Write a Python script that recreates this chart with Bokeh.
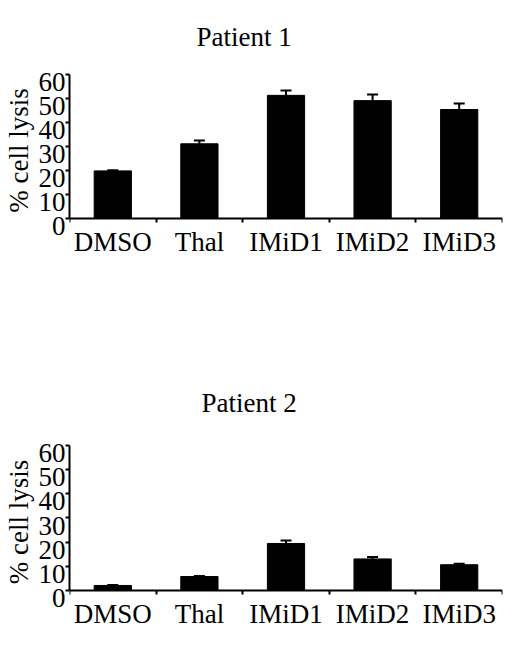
from bokeh.plotting import figure
from bokeh.layouts import column
from bokeh.models import (ColumnDataSource, Range1d, LinearAxis, FixedTicker, Whisker,
                          TeeHead, AllLabels, CustomJSTickFormatter)
from bokeh.embed import file_html
from bokeh.resources import INLINE

categories = ["DMSO", "Thal", "IMiD1", "IMiD2", "IMiD3"]
p1_lysis = [19.8, 31.1, 51.3, 49.1, 45.4]
p1_err = [0.3, 1.4, 2.0, 2.6, 2.5]
p2_lysis = [2.0, 5.7, 19.4, 13.0, 10.6]
p2_err = [0.2, 0.2, 1.2, 0.8, 0.4]
y_ticks = [0, 10, 20, 30, 40, 50, 60]

FONT = "Liberation Serif"
FS = "27px"

n = len(categories)
centers = [i + 0.5 for i in range(n)]
edges = list(range(n + 1))
no_text = CustomJSTickFormatter(code="return ''")


def make_panel(title, vals, errs, height, top, bottom, title_x, title_gap):
    src = ColumnDataSource(dict(x=centers, val=vals,
                                up=[v + e for v, e in zip(vals, errs)]))
    p = figure(x_range=Range1d(0, n), y_range=Range1d(-3.4, 60),
               width=504, height=height,
               min_border_top=top, min_border_bottom=bottom,
               min_border_left=0, min_border_right=2,
               extra_y_ranges={"lbl": Range1d(-0.2, 63.2)},
               output_backend="svg", toolbar_location=None)
    p.outline_line_color = None
    p.xgrid.visible = False
    p.ygrid.visible = False

    p.title.text = title
    p.title.text_font = FONT
    p.title.text_font_size = FS
    p.title.text_font_style = "normal"
    p.title.text_color = "black"
    p.title.align = "left"
    p.title.vertical_align = "top"
    p.title.offset = title_x
    p.title.standoff = title_gap

    # category names under the bars
    xa = p.xaxis[0]
    xa.ticker = FixedTicker(ticks=centers)
    xa.major_label_overrides = {c: name for c, name in zip(centers, categories)}
    xa.axis_line_color = None
    xa.major_tick_line_color = None
    xa.minor_tick_line_color = None
    xa.major_tick_out = 0
    xa.major_tick_in = 0
    xa.minor_tick_out = 0
    xa.minor_tick_in = 0
    xa.major_label_standoff = 0
    xa.major_label_text_font = FONT
    xa.major_label_text_font_size = FS
    xa.major_label_text_color = "black"

    # x axis line on y = 0 with ticks between categories
    tk = LinearAxis(ticker=FixedTicker(ticks=edges), formatter=no_text,
                    fixed_location=0, axis_line_width=2, major_tick_line_width=2,
                    major_tick_in=4, major_tick_out=0, minor_tick_line_color=None,
                    minor_tick_out=0, major_label_standoff=0)
    p.add_layout(tk, "above")

    # y axis line + ticks (numbers come from the axis below)
    ya = p.yaxis[0]
    ya.bounds = (0, 60)
    ya.ticker = FixedTicker(ticks=y_ticks)
    ya.formatter = no_text
    ya.axis_line_width = 2
    ya.major_tick_line_width = 2
    ya.major_tick_out = 4
    ya.major_tick_in = 0
    ya.minor_tick_line_color = None
    ya.major_label_standoff = 0

    # tick numbers hang just below their ticks, as in the original
    lbl = LinearAxis(y_range_name="lbl", ticker=FixedTicker(ticks=y_ticks),
                     axis_line_color=None, major_tick_line_color=None,
                     minor_tick_line_color=None, major_tick_out=0, major_tick_in=0,
                     minor_tick_out=0, major_label_standoff=0,
                     major_label_policy=AllLabels(),
                     major_label_text_font=FONT, major_label_text_font_size=FS,
                     major_label_text_color="black",
                     axis_label="% cell lysis", axis_label_text_font=FONT,
                     axis_label_text_font_size=FS, axis_label_text_font_style="normal",
                     axis_label_text_color="black", axis_label_standoff=2)
    p.add_layout(lbl, "left")

    p.vbar(x="x", top="val", width=0.43, source=src, color="black")
    p.add_layout(Whisker(base="x", lower="val", upper="up", source=src,
                         line_width=2, line_color="black", lower_head=None,
                         upper_head=TeeHead(size=11, line_width=2, line_color="black")))
    return p


p1 = make_panel("Patient 1", p1_lysis, p1_err, 361, 68, 135, 127, 42)
p2 = make_panel("Patient 2", p2_lysis, p2_err, 270, 81, 27, 132, 52)

layout = column(p1, p2)
open("out.html", "w").write(file_html(layout, INLINE))
